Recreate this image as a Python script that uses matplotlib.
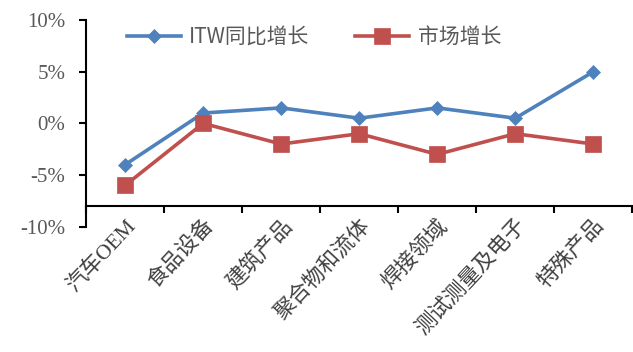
import numpy as np
import matplotlib
matplotlib.use("Agg")
import matplotlib.pyplot as plt
from matplotlib.ticker import FuncFormatter

categories = ["汽车OEM", "食品设备", "建筑产品", "聚合物和流体", "焊接领域", "测试测量及电子", "特殊产品"]
itw_growth = [-4, 1, 1.5, 0.5, 1.5, 0.5, 5]
market_growth = [-6, 0, -2, -1, -3, -1, -2]
series_names = ["ITW同比增长", "市场增长"]
y_ticks = [-10, -5, 0, 5, 10]

blue = "#4F81BD"
red = "#C0504D"
grey = "#595959"

fig = plt.figure(figsize=(6.33, 3.52), dpi=100)
ax = fig.add_axes([0.136, 0.356, 0.863, 0.587])

x = np.arange(len(categories))
ax.plot(x, itw_growth, color=blue, lw=2.6, marker="D", ms=7.5, mew=0.5,
        label=series_names[0], zorder=3)
ax.plot(x, market_growth, color=red, lw=2.6, marker="s", ms=11, mew=0.5,
        label=series_names[1], zorder=3)

ax.set_xlim(-0.5, len(categories) - 0.5)
ax.set_ylim(-10, 10)
ax.set_yticks(y_ticks)
ax.yaxis.set_major_formatter(FuncFormatter(lambda v, p: f"{v:.0f}%"))

# x axis crosses at -8%
ax.spines["bottom"].set_position(("data", -8))
ax.spines["top"].set_visible(False)
ax.spines["right"].set_visible(False)
for s in ("left", "bottom"):
    ax.spines[s].set_linewidth(1.5)
    ax.spines[s].set_color("black")

ax.set_xticks(np.arange(len(categories) + 1) - 0.5, minor=True)
ax.set_xticks(x)
ax.tick_params(axis="x", which="major", length=0, pad=7)
ax.tick_params(axis="x", which="minor", length=5, width=1.5, direction="out")
ax.tick_params(axis="y", length=5, width=1.5, direction="out", pad=10,
               labelsize=15, labelcolor=grey)
for lbl in ax.get_yticklabels():
    lbl.set_family("Liberation Serif")

ax.set_xticklabels(categories, rotation=47, ha="right", rotation_mode="anchor",
                   fontsize=15.5, color="#404040", fontweight="light",
                   family=["Liberation Serif", "Noto Sans CJK SC"])

leg = fig.legend(loc="center", bbox_to_anchor=(0.496, 0.895), ncol=2, frameon=False,
                 prop={"family": "Noto Sans CJK SC", "size": 15, "weight": "light"},
                 handlelength=2.6, handletextpad=0.4, columnspacing=2.2)
for t in leg.get_texts():
    t.set_color(grey)

fig.savefig("out.png", dpi=100)
